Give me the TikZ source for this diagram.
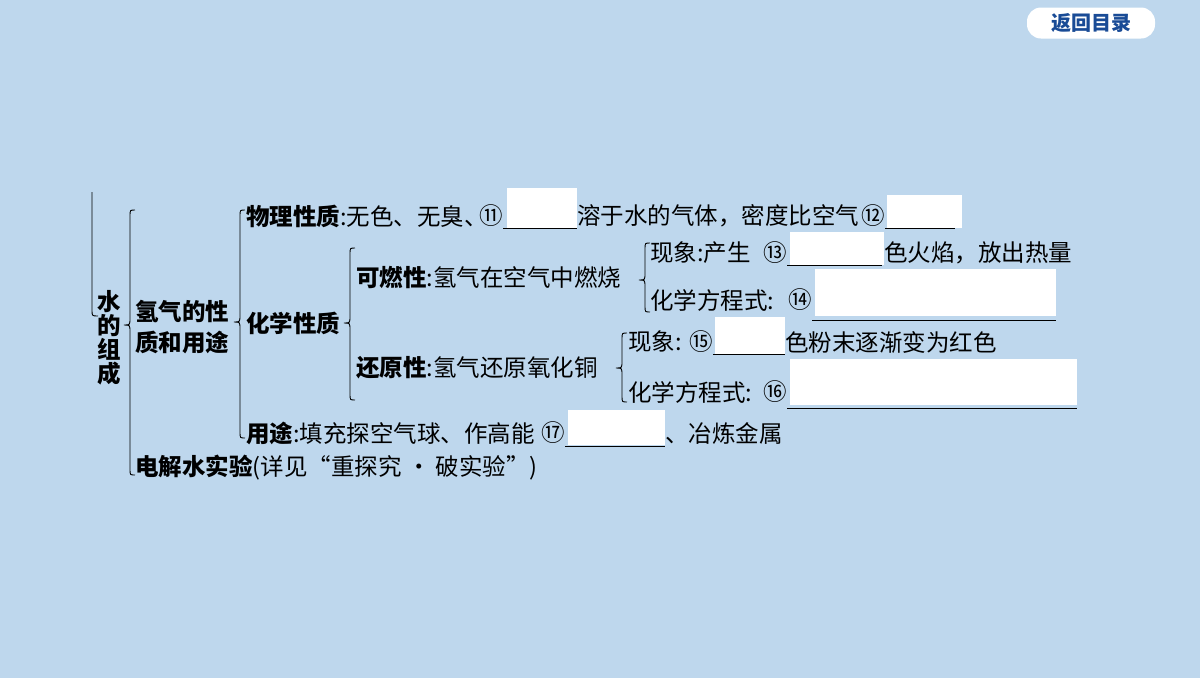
\documentclass[tikz,border=0pt]{standalone}
\usepackage{fontspec}
\newfontfamily\cjk{Noto Sans CJK SC}
\usetikzlibrary{positioning}
\definecolor{bgblue}{RGB}{190,215,237}
\definecolor{btnblue}{RGB}{25,75,150}
\newcommand\lbrc[4]{% x, top, tip, bottom
  \draw (#1+5,#2) .. controls (#1,#2) .. (#1,#2+6) -- (#1,#3-7)
    .. controls (#1,#3) .. (#1-6,#3) .. controls (#1,#3) .. (#1,#3+7)
    -- (#1,#4-6) .. controls (#1,#4) .. (#1+5,#4);}
\begin{document}
\begin{tikzpicture}[x=1pt,y=-1pt,line width=0.9pt,
    txt/.style={anchor=west,inner sep=0pt,font=\cjk\fontsize{23.5}{27}\selectfont},
    lab/.style={txt,font=\cjk\bfseries\fontsize{23.5}{27}\selectfont},
    num/.style={txt,anchor=east},
    blank/.style={fill=white,draw=none}]
  \fill[bgblue] (0,0) rectangle (1200,678);
  \useasboundingbox (0,0) rectangle (1200,678);
  % button
  \node[fill=white,rounded corners=14pt,minimum width=128pt,minimum height=31pt,
    font=\cjk\bfseries\fontsize{20}{22}\selectfont,text=btnblue] (back) at (1091,23) {返回目录};

  % blanks
  \fill[blank] (507,188) rectangle (577,228);
  \fill[blank] (887,195) rectangle (962,228);
  \fill[blank] (790,232) rectangle (884,265);
  \fill[blank] (815,269) rectangle (1056,316);
  \fill[blank] (715,317) rectangle (785,354);
  \fill[blank] (790,359) rectangle (1077,405);
  \fill[blank] (568,410) rectangle (665,445);
  \draw[line width=1pt] (503,228) -- (577,228) (885,228) -- (955,228)
    (787,265) -- (882,265) (812,320) -- (1056,320) (713,354) -- (785,354)
    (787,408) -- (1077,408) (565,446) -- (665,446);

  % brackets
  \draw (92,192) -- (92,310) .. controls (92,316) .. (98,316);
  \lbrc{130}{210}{325}{475}
  \lbrc{240}{210}{322}{438}
  \lbrc{350}{248}{323}{400}
  \lbrc{645}{243}{280}{312}
  \lbrc{622}{333}{368}{402}

  % texts
  \node[lab,align=center,anchor=north] (water) at (109,290) {水\\[-3pt]的\\[-3pt]组\\[-3pt]成};
  \node[lab,align=left] (hydro) at (135,327) {氢气的性\\[4pt]质和用途};
  \node[txt] (phys) at (246,216) {\bfseries 物理性质\mdseries :无色、无臭、};
  \node[num] (n11) at (503,216) {⑪};
  \node[txt] (phys2) at (577,216) {溶于水的气体，密度比空气};
  \node[num] (n12) at (885,216) {⑫};
  \node[lab] (chem) at (246,323) {化学性质};
  \node[txt] (burn) at (356,278) {\bfseries 可燃性\mdseries :氢气在空气中燃烧};
  \node[txt] (ph1) at (650,253) {现象:产生};
  \node[num] (n13) at (787,253) {⑬};
  \node[txt] (ph1b) at (884,253) {色火焰，放出热量};
  \node[txt] (eq1) at (650,300) {化学方程式:};
  \node[num] (n14) at (812,300) {⑭};
  \node[txt] (redu) at (356,368) {\bfseries 还原性\mdseries :氢气还原氧化铜};
  \node[txt] (ph2) at (628,342) {现象:};
  \node[num] (n15) at (713,342) {⑮};
  \node[txt] (ph2b) at (785,342) {色粉末逐渐变为红色};
  \node[txt] (eq2) at (628,392) {化学方程式:};
  \node[num] (n16) at (787,392) {⑯};
  \node[txt] (use) at (246,433) {\bfseries 用途\mdseries :填充探空气球、作高能};
  \node[num] (n17) at (565,433) {⑰};
  \node[txt] (use2) at (665,433) {、冶炼金属};
  \node[txt] (elec) at (135,468) {\bfseries 电解水实验\mdseries (详见“重探究 · 破实验”)};
\end{tikzpicture}
\end{document}
